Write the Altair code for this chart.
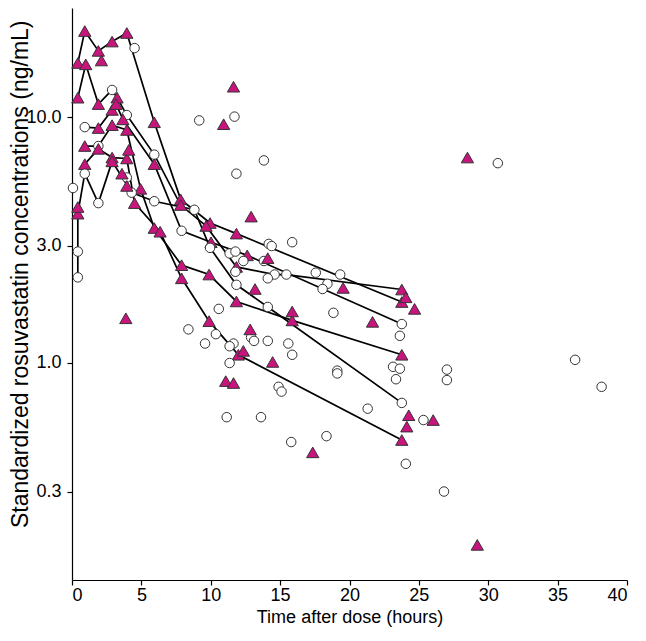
import altair as alt
import pandas as pd

# ---- connected individual profiles: time (h), concentration (ng/mL), marker ----
p1_t = [0.42, 0.92, 1.90, 2.89, 3.95, 5.93, 7.83, 9.95, 11.85, 23.77]
p1_c = [16.6, 22.4, 18.6, 20.3, 22.0, 9.53, 4.63, 3.71, 3.36, 1.77]
p1_m = ["T"] * 10

p2_t = [0.42, 0.99, 1.90, 2.89, 3.25, 3.95, 5.93, 7.83, 9.66, 11.85, 14.6, 15.45, 23.77]
p2_c = [12.0, 16.4, 11.3, 12.9, 12.0, 10.2, 7.04, 4.39, 3.61, 2.46, 2.29, 2.29, 1.99]
p2_m = ["T", "T", "T", "C", "T", "C", "C", "T", "T", "T", "C", "C", "T"]

p3_t = [0.92, 1.90, 2.89, 3.17, 3.67, 5.93, 7.90, 10.02, 12.63, 23.77]
p3_c = [9.11, 9.03, 10.7, 11.3, 9.79, 6.44, 3.45, 3.10, 2.74, 1.44]
p3_m = ["C", "T", "T", "T", "T", "T", "C", "T", "T", "C"]

p4_t = [0.92, 1.90, 2.89, 3.95, 4.94, 5.93, 7.90, 9.88, 11.85, 15.87, 23.77]
p4_c = [7.63, 7.63, 9.28, 8.87, 5.11, 3.54, 2.50, 2.29, 1.78, 1.49, 1.08]
p4_m = ["T", "C", "T", "T", "T", "T", "T", "T", "T", "T", "T"]

p5_t = [0.92, 1.90, 2.89, 3.95, 4.51, 6.35, 7.90, 9.88, 11.99, 23.77]
p5_c = [6.44, 7.43, 6.85, 6.79, 4.47, 3.42, 2.21, 1.48, 1.08, 0.486]
p5_m = ["T"] * 10

p6_t = [0.42, 0.42, 0.42, 0.92, 1.90, 2.89, 4.30, 5.93, 8.82, 9.95, 11.85, 14.11, 23.77]
p6_c = [2.23, 2.84, 4.05, 5.89, 4.47, 6.61, 4.93, 4.55, 4.20, 2.94, 2.08, 1.69, 0.688]
p6_m = ["C", "C", "T", "C", "C", "T", "C", "C", "C", "C", "C", "C", "C"]

# ---- isolated observations ----
circ_t = [4.51, 0.07, 9.17, 11.71, 11.85, 13.83, 14.18, 14.39, 15.87, 11.36, 11.78,
          12.35, 13.83, 11.78, 14.11, 17.57, 19.33, 18.41, 18.06, 18.84, 10.58, 8.39,
          12.91, 13.12, 14.11, 10.37, 9.59, 15.59, 11.64, 11.36, 15.87, 11.36, 19.12,
          19.12, 23.14, 23.63, 23.35, 27.02, 27.02, 23.63, 14.89, 15.10, 21.31, 25.33,
          11.15, 13.62, 15.80, 18.34, 24.06, 26.81, 36.26, 38.17, 30.69, 3.95]
circ_c = [19.1, 5.15, 9.70, 10.05, 5.89, 6.67, 3.05, 2.99, 3.10, 2.79, 2.84,
          2.60, 2.60, 2.35, 2.21, 2.33, 2.29, 2.10, 2.00, 1.60, 1.66, 1.37,
          1.27, 1.23, 1.23, 1.31, 1.20, 1.20, 1.20, 1.17, 1.08, 1.00, 0.931,
          0.907, 0.965, 0.948, 0.859, 0.940, 0.852, 1.29, 0.800, 0.765, 0.652, 0.586,
          0.602, 0.602, 0.477, 0.504, 0.389, 0.300, 1.03, 0.800, 6.50, 5.68]

tri_t = [2.12, 11.64, 10.93, 12.91, 3.88, 13.19, 19.54, 24.06, 24.69, 21.66, 14.11,
         15.87, 12.84, 12.35, 14.46, 11.08, 11.64, 24.27, 26.03, 24.13, 17.35, 29.21,
         28.50, 3.60, 3.95, 4.09, 0.42]
tri_c = [17.0, 13.3, 9.36, 3.94, 1.52, 2.00, 2.02, 1.85, 1.66, 1.47, 2.67,
         1.62, 1.37, 1.12, 1.01, 0.844, 0.829, 0.613, 0.586, 0.551, 0.433, 0.182,
         6.85, 5.89, 5.25, 7.36, 4.31]

x_ticks = [0, 5, 10, 15, 20, 25, 30, 35, 40]
y_ticks = [0.3, 1.0, 3.0, 10.0]

profiles = [(p1_t, p1_c, p1_m), (p2_t, p2_c, p2_m), (p3_t, p3_c, p3_m),
            (p4_t, p4_c, p4_m), (p5_t, p5_c, p5_m), (p6_t, p6_c, p6_m)]

rows = []
for i, (ts, cs, ms) in enumerate(profiles):
    for k, (t, c, m) in enumerate(zip(ts, cs, ms)):
        rows.append({"id": i, "seq": k, "time": t, "conc": c, "marker": m})
lines_df = pd.DataFrame(rows)

pts = [{"time": r["time"], "conc": r["conc"], "marker": r["marker"]} for r in rows]
pts += [{"time": t, "conc": c, "marker": "C"} for t, c in zip(circ_t, circ_c)]
pts += [{"time": t, "conc": c, "marker": "T"} for t, c in zip(tri_t, tri_c)]
pts_df = pd.DataFrame(pts)

FONT = "Liberation Sans"
PLOT_W, PLOT_H = 555, 572

x_enc = alt.X("time:Q", scale=alt.Scale(domain=[0, 40], nice=False, zero=False),
              axis=alt.Axis(values=x_ticks, title="Time after dose (hours)",
                            format="d", labelFontSize=18, labelPadding=1,
                            titleFontSize=18, titleBaseline="alphabetic", titleY=42))
y_enc = alt.Y("conc:Q", scale=alt.Scale(type="log", domain=[0.131, 27.8], nice=False),
              axis=alt.Axis(values=y_ticks, format=".1f",
                            labelFontSize=18, labelPadding=6,
                            title="Standardized rosuvastatin concentrations (ng/mL)",
                            titleFontSize=23, titleBaseline="alphabetic",
                            titleAngle=270, titleAlign="right",
                            titleX=-45, titleY=12))

lines = alt.Chart(lines_df).mark_line(color="black", strokeWidth=1.7).encode(
    x=x_enc, y=y_enc, detail="id:N", order="seq:Q")

points = alt.Chart(pts_df).mark_point(filled=True, opacity=1, stroke="#333333",
                                      strokeWidth=1).encode(
    x="time:Q", y="conc:Q",
    shape=alt.Shape("marker:N", scale=alt.Scale(domain=["C", "T"],
                                                range=["circle", "triangle-up"]),
                    legend=None),
    fill=alt.Fill("marker:N", scale=alt.Scale(domain=["C", "T"],
                                              range=["#ffffff", "#c8157d"]),
                  legend=None),
    size=alt.Size("marker:N", scale=alt.Scale(domain=["C", "T"], range=[90, 150]),
                  legend=None),
)

chart = alt.layer(lines, points).properties(
    width=PLOT_W, height=PLOT_H,
    autosize=alt.AutoSizeParams(type="none"),
    padding={"left": 64, "top": 0, "right": 11, "bottom": 47},
).configure_view(stroke=None).configure_axis(
    grid=False, domainColor="black", tickColor="black", labelColor="black",
    titleColor="black", labelFont=FONT, titleFont=FONT, titleFontWeight="normal",
    tickSize=5, domainWidth=1.2, tickWidth=1.2,
)

chart.save("out.html", embed_options={"renderer": "svg", "actions": False})
